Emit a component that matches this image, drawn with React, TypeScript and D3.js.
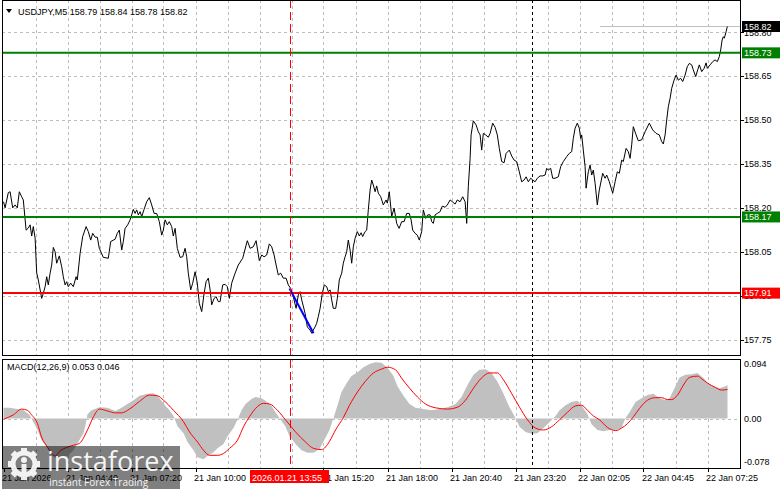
import React from 'react';
import * as d3 from 'd3';

const symbolTitle = 'USDJPY,M5  158.79 158.84 158.78 158.82';
const macdTitle = 'MACD(12,26,9) 0.053 0.046';
const priceTicks = [157.75, 157.9, 158.05, 158.2, 158.35, 158.5, 158.65, 158.8];
const macdTickValues = [0.094, 0.0, -0.078];
const macdTickLabels = ['0.094', '0.00', '-0.078'];
const timeLabelBars = [0, 32, 64, 96, 160, 192, 224, 256, 288, 320, 352];
const timeLabels = ['21 Jan 2026', '21 Jan 04:40', '21 Jan 07:20', '21 Jan 10:00', '21 Jan 15:20', '21 Jan 18:00', '21 Jan 20:40', '21 Jan 23:20', '22 Jan 02:05', '22 Jan 04:45', '22 Jan 07:25'];
const levelValues = [158.73, 158.17, 157.91];
const lastPrice = 158.82;
const markerBar = 143;
const markerLabel = '2026.01.21 13:55';
const separatorBar = 264;
const trendLine: [number, number][] = [[143, 157.926], [155, 157.773]];

// close prices: [bar index, price]
const priceSeries: [number, number][] = [
  [0,158.222],[0.8,158.201],[2.4,158.253],[3.3,158.256],[4.6,158.201],[5.8,158.211],[6.9,158.201],[7.9,158.256],[9.1,158.239],[9.9,158.228],[11.3,158.125],[12.4,158.132],[13.3,158.143],[14.1,158.105],[14.9,158.137],[15.8,158.098],[16.6,157.979],[17.4,157.955],[19.1,157.892],[19.9,157.909],[20.8,157.932],[21.6,157.966],[22.4,157.938],[23.3,157.978],[24.1,158.006],[24.9,158.066],[25.8,158.051],[26.6,158.012],[27.9,158.037],[29.1,158.000],[29.9,157.966],[30.8,157.938],[31.6,157.949],[32.4,157.932],[33.6,157.944],[34.9,157.932],[36.3,157.966],[36.9,157.955],[38.3,158.046],[39.6,158.103],[41.3,158.137],[42.4,158.120],[43.6,158.091],[44.6,158.114],[45.8,158.101],[46.9,158.101],[47.9,158.063],[49.9,158.032],[52.4,158.029],[53.6,158.086],[55.8,158.094],[56.9,158.114],[57.9,158.125],[59.1,158.057],[59.9,158.086],[60.8,158.131],[62.1,158.143],[63.3,158.160],[64.1,158.177],[64.9,158.196],[65.8,158.182],[66.6,158.194],[67.4,158.177],[68.3,158.188],[69.1,158.171],[70.3,158.196],[71.6,158.222],[72.9,158.236],[74.1,158.211],[75.3,158.182],[76.6,158.182],[77.9,158.154],[79.1,158.108],[79.9,158.125],[80.8,158.160],[81.9,158.143],[82.9,158.154],[84.1,158.137],[84.9,158.105],[85.8,158.131],[86.9,158.063],[88.3,158.032],[89.6,158.034],[90.8,158.063],[91.6,158.034],[92.4,157.978],[93.6,157.921],[94.6,157.944],[95.8,157.983],[96.9,157.944],[97.9,157.875],[99.1,157.847],[100.3,157.909],[101.3,157.949],[102.4,157.961],[103.3,157.921],[104.1,157.870],[105.3,157.892],[106.3,157.898],[107.4,157.881],[108.3,157.881],[109.6,157.938],[110.8,157.940],[111.9,157.932],[112.9,157.892],[114.1,157.944],[115.8,157.978],[117.4,158.006],[119.6,158.029],[121.9,158.089],[123.3,158.063],[124.9,158.068],[126.3,158.089],[127.9,158.021],[129.1,158.040],[130.3,158.034],[131.6,158.040],[132.9,158.078],[134.1,158.068],[135.3,158.040],[136.3,158.006],[137.4,157.972],[138.6,157.978],[139.9,157.961],[141.3,157.961],[142.4,157.938],[143.6,157.926],
  [144.9,157.898],[146.3,157.858],[147.4,157.904],[148.3,157.915],[149.1,157.887],[150.8,157.841],[151.9,157.795],[153.3,157.784],[154.1,157.773],[154.9,157.784],[155.8,157.795],[156.6,157.807],[157.4,157.830],[158.3,157.858],[159.4,157.909],[160.4,157.938],[161.6,157.932],[162.4,157.915],[163.3,157.921],[164.1,157.887],[164.9,157.858],[166.1,157.858],[166.9,157.892],[167.9,157.955],[169.1,157.978],[169.9,158.012],[170.8,158.034],[171.6,158.051],[172.4,158.091],[173.3,158.057],[174.1,158.012],[174.9,158.068],[175.8,158.097],[176.9,158.120],[177.9,158.105],[178.8,158.116],[179.6,158.103],[180.8,158.120],[181.6,158.125],[182.4,158.194],[183.3,158.262],[184.1,158.296],[184.9,158.279],[185.8,158.256],[186.6,158.276],[187.4,158.251],[188.6,158.239],[189.9,158.211],[191.3,158.228],[191.9,158.217],[192.9,158.256],[194.1,158.171],[195.3,158.200],[196.6,158.148],[197.8,158.131],[199.1,158.154],[200.3,158.154],[201.6,158.182],[202.9,158.182],[203.8,158.160],[204.6,158.125],[205.8,158.114],[206.9,158.108],[207.9,158.091],[209.1,158.120],[209.9,158.194],[211.1,158.165],[212.1,158.177],[213.3,158.177],[214.1,158.154],[214.9,158.148],[215.8,158.177],[216.9,158.182],[218.3,158.188],[219.4,158.207],[220.8,158.203],[221.9,158.211],[223.3,158.228],[224.4,158.222],[225.8,158.214],[226.9,158.228],[228.3,158.222],[229.6,158.239],[230.8,158.222],[231.6,158.148],[232.4,158.273],[233.3,158.370],[233.8,158.450],[234.9,158.498],[236.3,158.484],[237.4,158.461],[238.3,158.450],[239.1,158.398],[239.9,158.455],[241.1,158.450],[242.4,158.442],[243.3,158.455],[244.6,158.490],[245.8,158.476],[246.9,158.450],[247.9,158.404],[249.1,158.359],[250.3,158.355],[251.3,158.387],[252.9,158.398],[254.1,158.378],[255.3,158.364],[256.6,158.359],[257.9,158.324],[259.1,158.290],[260.3,158.296],[261.3,158.307],[262.4,158.290],[263.6,158.302],[264.6,158.296],[265.8,158.290],[266.9,158.302],[268.3,158.310],[269.6,158.310],[270.8,158.313],[271.6,158.336],[272.4,158.330],[273.6,158.336],[274.6,158.302],[275.8,158.302],[277.4,158.307],[278.6,158.342],[279.9,158.359],[281.6,158.376],[282.9,158.387],[284.1,158.393],[284.9,158.438],[285.8,158.473],[286.9,158.490],[287.9,158.473],[288.6,158.438],[289.1,158.450],[289.9,158.398],[290.8,158.342],[291.3,158.268],[292.4,158.324],[293.3,158.347],[294.1,158.313],[294.9,158.330],[295.8,158.285],[296.9,158.211],[297.9,158.262],
  [299.6,158.319],[300.8,158.302],[301.6,158.313],[302.9,158.290],[304.6,158.251],[305.8,158.290],[306.9,158.324],[307.9,158.319],[309.1,158.364],[309.9,158.359],[311.3,158.404],[312.4,158.393],[313.3,158.370],[314.1,158.416],[314.9,158.478],[316.3,158.450],[317.4,158.430],[319.1,158.433],[320.8,158.461],[322.9,158.490],[324.6,158.467],[326.3,158.455],[327.9,158.450],[329.1,158.427],[329.9,158.419],[330.8,158.450],[331.6,158.501],
  [332.4,158.546],[333.3,158.575],[334.1,158.609],[335.3,158.637],[336.3,158.654],[337.4,158.637],[338.6,158.643],[339.6,158.632],[340.8,158.654],[341.9,158.683],[342.9,158.694],[344.1,158.689],[344.9,158.672],[346.1,158.649],[347.1,158.672],[347.9,158.689],[349.1,158.666],[350.3,158.677],[351.3,158.696],[351.9,158.677],[353.3,158.689],[354.6,158.700],[355.8,158.706],[356.9,158.700],[357.9,158.717],[358.6,158.740],[359.3,158.774],[359.9,158.785],[360.4,158.780],[361.3,158.802],[361.9,158.820]
];

// MACD main (histogram): [bar index, value]
const macdHist: [number, number][] = [
  [0,0.017],[3,0.017],[7,0.015],[10,0.013],[13,0.006],[15,-0.006],[17,-0.018],[19,-0.034],[22,-0.047],[24,-0.058],[27,-0.064],[30,-0.062],[32,-0.059],[35,-0.050],[37,-0.039],[40,-0.023],[41,-0.010],[42,0.007],[44,0.013],[48,0.018],[52,0.017],[56,0.012],[59,0.017],[62,0.023],[65,0.029],[68,0.036],[72,0.039],[75,0.040],[77,0.036],[79,0.028],[81,0.020],[83,0.013],[85,0.004],[87,-0.012],[90,-0.023],[92,-0.037],[95,-0.050],[97,-0.061],[100,-0.064],[102,-0.059],[105,-0.053],[107,-0.047],[110,-0.040],[112,-0.028],[115,-0.015],[117,-0.002],[119,0.013],[121,0.023],[124,0.031],[126,0.034],[129,0.032],[131,0.028],[134,0.020],[136,0.010],[138,0.001],[141,-0.013],[143,-0.028],[146,-0.040],[149,-0.050],[152,-0.054],[155,-0.054],[158,-0.048],[160,-0.036],[163,-0.018],[165,0.001],[167,0.021],[169,0.042],[172,0.058],[174,0.067],[177,0.073],[180,0.081],[183,0.086],[186,0.089],[189,0.088],[192,0.080],[195,0.067],[197,0.051],[200,0.036],[203,0.023],[206,0.017],[210,0.015],[214,0.013],[218,0.015],[222,0.018],[226,0.023],[229,0.034],[232,0.053],[235,0.069],[238,0.077],[241,0.078],[244,0.072],[247,0.058],[250,0.039],[253,0.018],[256,0.001],[258,-0.013],[261,-0.021],[264,-0.024],[267,-0.023],[270,-0.015],[273,-0.006],[276,0.004],[278,0.013],[281,0.021],[284,0.026],[287,0.028],[289,0.021],[292,0.007],[294,-0.009],[297,-0.018],[300,-0.020],[303,-0.018],[306,-0.018],[309,-0.015],[311,0.001],[313,0.010],[316,0.026],[319,0.032],[322,0.037],[325,0.039],[328,0.032],[331,0.029],[333,0.032],[336,0.051],[338,0.065],[341,0.069],[344,0.070],[347,0.072],[350,0.064],[352,0.056],[355,0.051],[358,0.048],[361,0.051],[362,0.053]
];

// MACD signal: [bar index, value]
const macdSignal: [number, number][] = [
  [0,-0.001],[5,0.006],[9,0.015],[12,0.013],[14,0.006],[17,-0.008],[19,-0.029],[22,-0.045],[24,-0.055],[26,-0.059],[28,-0.052],[32,-0.045],[35,-0.042],[38,-0.039],[42,-0.018],[45,0.003],[48,0.015],[52,0.012],[56,0.009],[59,0.009],[63,0.015],[68,0.027],[73,0.037],[77,0.036],[80,0.029],[85,0.013],[90,-0.005],[93,-0.021],[97,-0.037],[100,-0.050],[103,-0.058],[107,-0.058],[110,-0.055],[113,-0.047],[117,-0.034],[120,-0.013],[123,0.003],[127,0.019],[130,0.024],[133,0.023],[137,0.013],[141,-0.002],[146,-0.021],[151,-0.037],[155,-0.047],[159,-0.049],[163,-0.036],[166,-0.018],[170,0.002],[173,0.021],[177,0.042],[181,0.059],[185,0.072],[189,0.078],[192,0.081],[196,0.077],[199,0.064],[203,0.048],[207,0.034],[211,0.023],[216,0.017],[222,0.015],[227,0.018],[231,0.029],[235,0.048],[239,0.064],[243,0.072],[247,0.072],[250,0.061],[254,0.040],[258,0.018],[262,-0.002],[266,-0.015],[270,-0.018],[274,-0.013],[278,-0.002],[282,0.010],[286,0.020],[289,0.021],[292,0.013],[295,0.004],[298,-0.002],[302,-0.014],[306,-0.019],[309,-0.015],[312,-0.008],[315,0.003],[318,0.016],[322,0.029],[326,0.033],[329,0.033],[332,0.030],[334,0.030],[337,0.037],[340,0.053],[343,0.065],[347,0.067],[349,0.063],[352,0.056],[356,0.049],[359,0.045],[362,0.046]
];

const W = 781, H = 489;
const L = 2, R = 740;
const mainTop = 0, mainBottom = 355, macdTop = 359, macdBottom = 468;
const FONT = '"Liberation Sans", Arial, sans-serif';

export default function App() {
  const x = d3.scaleLinear().domain([0, 368]).range([3.5, 739.5]);
  const yP = d3.scaleLinear().domain([157.75, 158.8]).range([340, 340 - 1.05 * 293]);
  const yM = d3.scaleLinear().domain([-0.078, 0.094]).range([macdBottom, macdTop]);

  const priceLine = d3.line<[number, number]>().x(d => x(d[0])).y(d => yP(d[1]));
  const histArea = d3.area<[number, number]>().x(d => x(d[0])).y0(yM(0)).y1(d => yM(d[1]));
  const signalLine = d3.line<[number, number]>().x(d => x(d[0])).y(d => yM(d[1])).curve(d3.curveMonotoneX);

  const gridBars = d3.range(16, 368, 16);
  const levelColors = ['#008000', '#008000', '#ff0000'];

  const xm = Math.round(x(markerBar)) + 0.5;
  const xs = Math.round(x(separatorBar)) + 0.5;

  return (
    <svg width={W} height={H} style={{ position: 'absolute', left: 0, top: 0, background: '#fff' }} fontFamily={FONT}>
      <defs>
        <clipPath id="mainClip"><rect x={L} y={mainTop} width={R - L} height={mainBottom - mainTop} /></clipPath>
        <clipPath id="macdClip"><rect x={L} y={macdTop} width={R - L} height={macdBottom - macdTop} /></clipPath>
      </defs>
      <rect x={0} y={0} width={W} height={H} fill="#fff" />

      {/* grid */}
      <g stroke="#bdbdbd" strokeWidth={1} strokeDasharray="3,3" shapeRendering="crispEdges">
        {gridBars.map(b => (
          <g key={b}>
            <line x1={Math.round(x(b)) + 0.5} x2={Math.round(x(b)) + 0.5} y1={mainTop} y2={mainBottom} />
            <line x1={Math.round(x(b)) + 0.5} x2={Math.round(x(b)) + 0.5} y1={macdTop} y2={macdBottom} />
          </g>
        ))}
        {priceTicks.map(p => (
          <line key={p} x1={L} x2={R} y1={Math.round(yP(p)) + 0.5} y2={Math.round(yP(p)) + 0.5} />
        ))}
        <line x1={L} x2={R} y1={Math.round(yM(0)) + 0.5} y2={Math.round(yM(0)) + 0.5} />
      </g>

      {/* bid line */}
      <line x1={600} x2={R} y1={Math.round(yP(lastPrice)) + 0.5} y2={Math.round(yP(lastPrice)) + 0.5} stroke="#c0c0c0" strokeWidth={1} shapeRendering="crispEdges" />

      {/* MACD */}
      <g clipPath="url(#macdClip)">
        <path d={histArea(macdHist) || ''} fill="#c0c0c0" stroke="none" />
        <path d={signalLine(macdSignal) || ''} fill="none" stroke="#ff0000" strokeWidth={1} />
      </g>

      {/* price */}
      <g clipPath="url(#mainClip)">
        <path d={priceLine(priceSeries) || ''} fill="none" stroke="#000" strokeWidth={1} strokeLinejoin="round" />
        {levelValues.map((v, i) => (
          <line key={v} x1={L} x2={R} y1={yP(v)} y2={yP(v)} stroke={levelColors[i]} strokeWidth={2} />
        ))}
        <path d={priceLine(trendLine) || ''} fill="none" stroke="#0000ff" strokeWidth={2} />
      </g>

      {/* vertical marker lines */}
      <line x1={xm} x2={xm} y1={mainTop} y2={macdBottom} stroke="#ff0000" strokeWidth={1} strokeDasharray="8,4" shapeRendering="crispEdges" />
      <line x1={xs} x2={xs} y1={mainTop} y2={macdBottom} stroke="#000" strokeWidth={1} strokeDasharray="3,3" shapeRendering="crispEdges" />

      {/* frames */}
      <g stroke="#000" strokeWidth={1} fill="none" shapeRendering="crispEdges">
        <rect x={L + 0.5} y={mainTop + 0.5} width={R - L} height={mainBottom - mainTop} />
        <rect x={L + 0.5} y={macdTop + 0.5} width={R - L} height={macdBottom - macdTop} />
        {priceTicks.map(p => (
          <line key={p} x1={R + 0.5} x2={R + 3.5} y1={Math.round(yP(p)) + 0.5} y2={Math.round(yP(p)) + 0.5} />
        ))}
        {timeLabelBars.map(b => (
          <line key={b} x1={Math.round(x(b)) + 0.5} x2={Math.round(x(b)) + 0.5} y1={macdBottom} y2={macdBottom + 4} />
        ))}
      </g>

      {/* header */}
      <path d="M6,9 L12,9 L9,13 Z" fill="#000" />
      <text x={18} y={15} fontSize={9} fill="#000">{symbolTitle}</text>
      <text x={7} y={370} fontSize={9} fill="#000">{macdTitle}</text>

      {/* price axis labels */}
      <g fontSize={9} fill="#000">
        {priceTicks.map(p => (
          <text key={p} x={R + 4} y={yP(p)} dy="0.35em">{p.toFixed(2)}</text>
        ))}
        {macdTickValues.map((v, i) => (
          <text key={v} x={R + 4} y={i === 0 ? yM(v) + 5 : i === 2 ? yM(v) - 6 : yM(v)} dy="0.35em">{macdTickLabels[i]}</text>
        ))}
      </g>

      {/* level value boxes */}
      {levelValues.map((v, i) => (
        <g key={v}>
          <rect x={R + 2} y={yP(v) - 5.5} width={38} height={11} fill={levelColors[i]} />
          <text x={R + 4} y={yP(v)} dy="0.35em" fontSize={9} fill="#fff">{v.toFixed(2)}</text>
        </g>
      ))}
      <rect x={R + 2} y={yP(lastPrice) - 5.5} width={38} height={11} fill="#000" />
      <text x={R + 4} y={yP(lastPrice)} dy="0.35em" fontSize={9} fill="#fff">{lastPrice.toFixed(2)}</text>

      {/* time labels */}
      <g fontSize={9} fill="#000">
        {timeLabelBars.map((b, i) => (
          <text key={b} x={x(b) - 1.5} y={481}>{timeLabels[i]}</text>
        ))}
      </g>
      <rect x={250} y={470} width={79} height={13} fill="#ff0000" />
      <text x={252} y={480.5} fontSize={9} fill="#fff">{markerLabel}</text>

      {/* watermark */}
      <g>
        <rect x={2} y={446} width={178} height={43} fill="#000" opacity={0.5} />
        <g fill="#fff" opacity={0.9}>
          <circle cx={24} cy={464} r={11} fill="none" stroke="#fff" strokeWidth={5} />
          {d3.range(8).map(k => (
            <rect key={k} x={21} y={448} width={6} height={6} transform={`rotate(${k * 45} 24 464)`} />
          ))}
          <circle cx={24} cy={460} r={3} />
          <rect x={21.5} y={464} width={5} height={16} />
        </g>
        <text x={47} y={471} fontSize={27} fill="#fff" opacity={0.92} fontFamily='"Open Sans", sans-serif'>instaforex</text>
        <text x={49} y={486} fontSize={10} fill="#fff" opacity={0.92} fontFamily='"Open Sans", sans-serif'>Instant Forex Trading</text>
      </g>
    </svg>
  );
}
